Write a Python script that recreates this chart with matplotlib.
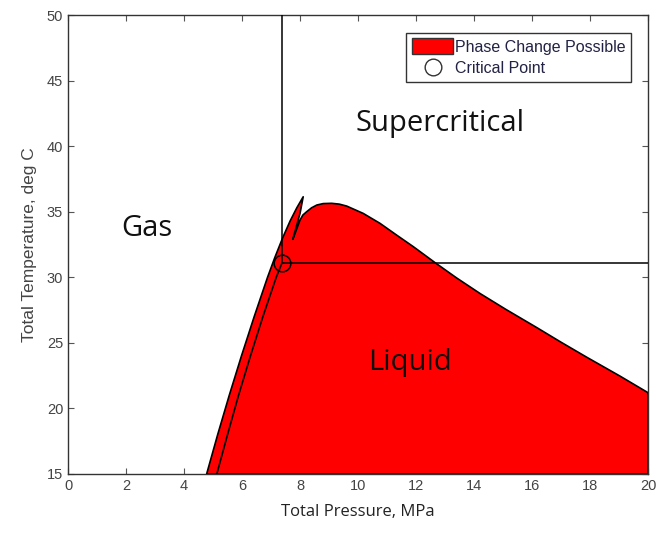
import matplotlib
matplotlib.use("Agg")
import matplotlib.pyplot as plt
from matplotlib.patches import Patch
from matplotlib.lines import Line2D

# CO2 phase map: pressure (MPa) vs temperature (deg C)
CRIT_P = 7.38
CRIT_T = 31.1

# outer edge of the phase-change region, bottom to spike tip
outer_p = [4.78, 5.16, 5.56, 5.98, 6.42, 6.88, 7.13, 7.40, 7.66, 7.89, 8.11]
outer_t = [15.0, 18.0, 21.0, 24.0, 27.0, 30.0, 31.5, 33.0, 34.3, 35.3, 36.14]

# inner side of the spike, back down to the notch
spike_p = [8.00, 7.75]
spike_t = [34.87, 32.89]

# dome over the liquid region, notch to right edge
dome_p = [7.83, 8.00, 8.10, 8.23, 8.40, 8.58, 8.80, 9.09, 9.35, 9.61, 10.18, 10.76, 11.33,
          11.91, 12.66, 13.40, 14.21, 15.10, 16.16, 17.00, 17.89, 19.03, 20.0]
dome_t = [33.35, 34.36, 34.75, 35.00, 35.30, 35.51, 35.62, 35.64, 35.58, 35.43, 34.87, 34.11, 33.22,
          32.33, 31.11, 29.95, 28.76, 27.55, 26.17, 25.05, 23.90, 22.47, 21.20]

# saturation line up to the critical point
sat_p = [5.13, 5.50, 5.88, 6.29, 6.72, 7.18, CRIT_P]
sat_t = [15.0, 18.0, 21.0, 24.0, 27.0, 30.0, CRIT_T]

x_ticks = list(range(0, 21, 2))
y_ticks = list(range(15, 51, 5))

fig = plt.figure(figsize=(6.56, 5.36), dpi=100)
ax = fig.add_axes([0.1037, 0.1157, 0.8841, 0.8563])

# filled region
poly_p = outer_p + spike_p + dome_p + [20.0, outer_p[0]]
poly_t = outer_t + spike_t + dome_t + [15.0, 15.0]
ax.fill(poly_p, poly_t, facecolor="#ff0000", edgecolor="black", linewidth=1.2,
        joinstyle="round", zorder=2)

ax.plot(sat_p, sat_t, color="black", linewidth=1.2, zorder=3)
ax.plot([CRIT_P, CRIT_P], [CRIT_T, 50], color="black", linewidth=1.1, zorder=3)
ax.plot([CRIT_P, 20], [CRIT_T, CRIT_T], color="black", linewidth=1.1, zorder=3)
ax.plot([CRIT_P], [CRIT_T], marker="o", markersize=12, markerfacecolor="none",
        markeredgecolor="black", markeredgewidth=1.1, linestyle="none", zorder=4)

# region labels
region_font = dict(family="Open Sans", fontsize=21, color="#111111")
ax.text(2.72, 33.75, "Gas", ha="center", va="center", **region_font)
ax.text(12.83, 41.76, "Supercritical", ha="center", va="center", **region_font)
ax.text(11.80, 23.5, "Liquid", ha="center", va="center", **region_font)

ax.set_xlim(0, 20)
ax.set_ylim(15, 50)
ax.set_xticks(x_ticks)
ax.set_yticks(y_ticks)
ax.tick_params(direction="in", top=True, right=True, length=4, width=0.8,
               colors="#555555", labelsize=10.5, labelcolor="#444444")
for lab in ax.get_xticklabels() + ax.get_yticklabels():
    lab.set_family("Liberation Sans")
for sp in ax.spines.values():
    sp.set_color("#333333")
    sp.set_linewidth(1.0)

ax.set_xlabel("Total Pressure, MPa", family="Open Sans", fontsize=12, color="#222222", labelpad=8)
ax.set_ylabel("Total Temperature, deg C", family="Liberation Sans", fontsize=12.5, color="#444444", labelpad=7)

handles = [
    Patch(facecolor="#ff0000", edgecolor="#333333", label="Phase Change Possible"),
    Line2D([], [], marker="o", markersize=12, markerfacecolor="none",
           markeredgecolor="#333333", linestyle="none", label="Critical Point"),
]
leg = ax.legend(handles=handles, loc="upper right", bbox_to_anchor=(0.971, 0.961),
                fancybox=False, framealpha=1, edgecolor="#333333",
                prop={"family": "Liberation Sans", "size": 11.5},
                handlelength=2.6, handleheight=1.1, handletextpad=0.1,
                borderpad=0.35, labelspacing=0.35, borderaxespad=0)
leg.get_frame().set_linewidth(1.0)
for t in leg.get_texts():
    t.set_color("#222244")

fig.savefig("out.png", dpi=100)
